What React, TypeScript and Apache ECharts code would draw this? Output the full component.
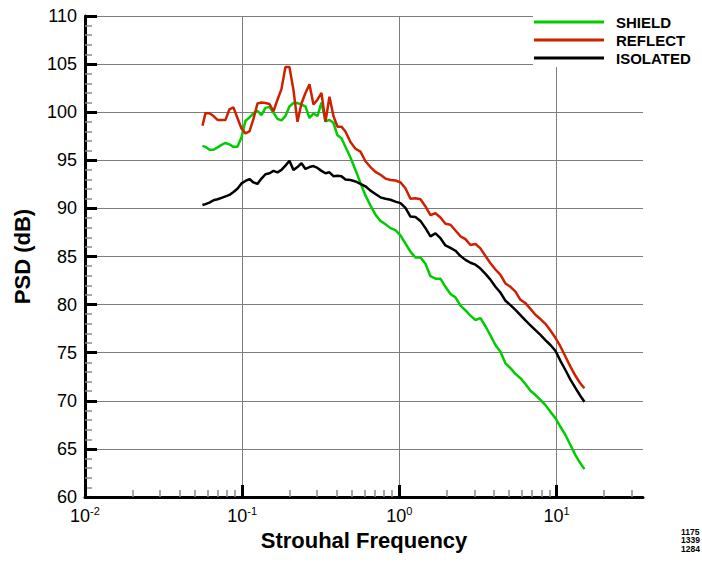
import React, { useEffect, useRef } from 'react';
import * as echarts from 'echarts';

const FONT = '"Liberation Sans", Arial, Helvetica, sans-serif';

// Strouhal frequency values
const freq = [
  0.0559, 0.0584, 0.0619, 0.0657, 0.0697, 0.0739, 0.0783, 0.083, 0.088, 0.0933,
  0.099, 0.1049, 0.1113, 0.118, 0.1251, 0.1327, 0.1407, 0.1492, 0.1582, 0.1677,
  0.1778, 0.1885, 0.1999, 0.212, 0.2248, 0.2384, 0.2527, 0.268, 0.2842, 0.3013,
  0.3195, 0.3388, 0.3592, 0.3808, 0.4038, 0.4282, 0.454,
  0.4885, 0.5256, 0.5656, 0.6085, 0.6548, 0.7046, 0.7581, 0.8157, 0.8778, 0.9445,
  1.0162, 1.0935, 1.1765, 1.266, 1.362, 1.466, 1.577, 1.697, 1.826, 1.965,
  2.114, 2.275, 2.448, 2.634, 2.834, 3.049, 3.281, 3.53, 3.798, 4.087,
  4.398, 4.731, 5.091, 5.478, 5.894, 6.342, 6.823, 7.342, 7.9, 8.5,
  9.146, 9.84, 10.59, 11.39, 12.26, 13.19, 14.19, 15.05,
];

const shield = [
  96.5, 96.4, 96.1, 96.1, 96.35, 96.6, 96.8, 96.65, 96.4, 96.4,
  97.4, 99.1, 99.45, 99.9, 100.15, 99.7, 100.45, 100.55, 99.95, 99.3,
  99.15, 99.6, 100.6, 100.95, 100.95, 100.8, 100.6, 99.4, 99.85, 99.6,
  101.0, 99.05, 99.2, 98.9, 97.6, 97.3, 96.4,
  95.3, 94.0, 92.65, 91.35, 90.3, 89.35, 88.7, 88.35, 87.95, 87.75,
  87.2, 86.35, 85.5, 84.9, 84.9, 84.25, 82.95, 82.7, 82.7, 81.85,
  81.1, 80.75, 79.9, 79.4, 78.85, 78.4, 78.6, 77.75, 76.8, 75.8,
  75.1, 73.9, 73.4, 72.8, 72.35, 71.75, 71.05, 70.6, 70.1, 69.55,
  68.85, 68.2, 67.3, 66.45, 65.4, 64.35, 63.5, 62.9,
];

const reflect = [
  98.6, 99.9, 99.9, 99.6, 99.2, 99.2, 99.2, 100.3, 100.5, 99.4,
  98.3, 97.8, 98.0, 99.3, 100.9, 101.0, 100.95, 100.85, 100.1, 101.3,
  102.4, 104.7, 104.7, 102.3, 99.0, 100.9, 102.0, 102.9, 100.8, 101.3,
  102.0, 99.0, 101.6, 99.6, 98.5, 98.5, 98.0,
  96.9, 96.2, 95.9, 94.9, 94.3, 93.8, 93.5, 93.1, 92.95, 92.9,
  92.7, 92.1, 91.0, 91.05, 90.95, 90.2, 89.3, 89.5, 89.05, 88.4,
  88.3, 87.7, 87.1, 86.8, 86.2, 86.3, 85.85, 85.05, 84.3, 83.65,
  83.1, 82.2, 81.85, 81.35, 80.5, 80.15, 79.55, 78.95, 78.5, 78.0,
  77.3, 76.55, 75.65, 74.6, 73.55, 72.6, 71.8, 71.3,
];

const isolated = [
  90.35, 90.45, 90.6, 90.85, 90.95, 91.1, 91.25, 91.4, 91.7, 92.05,
  92.6, 92.85, 93.05, 92.7, 92.55, 93.1, 93.55, 93.65, 93.9, 93.75,
  94.0, 94.45, 94.95, 94.0, 94.3, 94.7, 94.1, 94.3, 94.4, 94.2,
  93.9, 93.65, 93.75, 93.35, 93.4, 93.35, 93.0,
  92.95, 92.8, 92.55, 92.3, 91.85, 91.5, 91.15, 91.0, 90.9, 90.7,
  90.55, 90.05, 89.15, 89.1, 88.7, 87.95, 87.1, 87.4, 86.9, 86.15,
  85.9, 85.6, 85.05, 84.65, 84.35, 84.15, 83.75, 83.2, 82.6, 81.85,
  81.25, 80.4, 79.95, 79.45, 78.9, 78.35, 77.85, 77.35, 76.85, 76.3,
  75.8, 75.2, 74.15, 73.2, 72.2, 71.35, 70.5, 69.9,
];

const seriesNames = ['SHIELD', 'REFLECT', 'ISOLATED'];
const seriesColors = ['#00cc00', '#cc2200', '#000000'];

const xMajorTicks = [0.01, 0.1, 1, 10];
const xMinorTicks = [
  0.02, 0.03, 0.04, 0.05, 0.06, 0.07, 0.08, 0.09,
  0.2, 0.3, 0.4, 0.5, 0.6, 0.7, 0.8, 0.9,
  2, 3, 4, 5, 6, 7, 8, 9,
  20, 30,
];
// Only the part of these codes that is visible in the reference
const cornerCodes = ['1175', '1339', '1284'];

export default function App() {
  const ref = useRef<HTMLDivElement>(null);
  useEffect(() => {
    const chart = echarts.init(ref.current as HTMLDivElement, null, { renderer: 'svg' });
    const allData = [shield, reflect, isolated];
    const xMin = 0.01;
    const xMax = 35.5;
    chart.setOption({
      animation: false,
      backgroundColor: '#ffffff',
      textStyle: { fontFamily: FONT },
      grid: { left: 85, right: 59, top: 16, bottom: 65, containLabel: false, outerBoundsMode: 'none' },
      legend: {
        show: true,
        data: seriesNames,
        orient: 'vertical',
        left: 533,
        top: 0,
        padding: [13, 30, 0, 1],
        itemGap: 0,
        itemWidth: 70,
        itemHeight: 3,
        icon: 'rect',
        backgroundColor: '#ffffff',
        selectedMode: false,
        textStyle: {
          fontFamily: FONT,
          fontSize: 15,
          fontWeight: 'bold',
          color: '#000',
          lineHeight: 18,
          padding: [0, 0, 0, 7],
        },
      },
      xAxis: [
        {
          type: 'log',
          logBase: 10,
          min: xMin,
          max: xMax,
          position: 'bottom',
          name: 'Strouhal Frequency',
          nameLocation: 'middle',
          nameGap: 23,
          nameTextStyle: { fontFamily: FONT, fontSize: 22, fontWeight: 'bold', color: '#000' },
          axisLine: { show: true, onZero: false, lineStyle: { color: '#000', width: 3 } },
          axisTick: {
            show: true,
            inside: true,
            length: 12,
            customValues: xMajorTicks,
            lineStyle: { color: '#000', width: 3 },
          },
          minorTick: { show: false },
          axisLabel: {
            show: true,
            customValues: xMajorTicks,
            margin: 8,
            color: '#000',
            formatter: (v: number) => '{b|10}{s|' + Math.round(Math.log10(v)) + '}',
            rich: {
              b: { fontFamily: FONT, fontSize: 18, lineHeight: 22, color: '#000', verticalAlign: 'middle' },
              s: { fontFamily: FONT, fontSize: 11, lineHeight: 11, color: '#000', verticalAlign: 'top' },
            },
          },
          splitLine: { show: true, lineStyle: { color: '#7d7d7d', width: 1 } },
        },
        {
          type: 'log',
          logBase: 10,
          min: xMin,
          max: xMax,
          position: 'bottom',
          axisLine: { show: false, onZero: false },
          axisTick: {
            show: true,
            inside: true,
            length: 7,
            customValues: xMinorTicks,
            lineStyle: { color: '#8a8a8a', width: 1.5 },
          },
          axisLabel: { show: false },
          splitLine: { show: false },
        },
      ],
      yAxis: {
        type: 'value',
        min: 60,
        max: 110,
        interval: 5,
        name: 'PSD (dB)',
        nameLocation: 'middle',
        nameGap: 52,
        nameRotate: 90,
        nameTextStyle: { fontFamily: FONT, fontSize: 22, fontWeight: 'bold', color: '#000' },
        axisLine: { show: true, onZero: false, lineStyle: { color: '#000', width: 3 } },
        axisTick: { show: true, inside: true, length: 12, lineStyle: { color: '#000', width: 3 } },
        minorTick: { show: true, splitNumber: 5, length: 7, lineStyle: { color: '#8a8a8a', width: 1.5 } },
        axisLabel: { fontFamily: FONT, fontSize: 18, color: '#000', margin: 8 },
        splitLine: { show: true, lineStyle: { color: '#7d7d7d', width: 1 } },
      },
      series: seriesNames.map((name, k) => ({
        name,
        type: 'line',
        xAxisIndex: 0,
        yAxisIndex: 0,
        data: freq.map((f, i) => [f, allData[k][i]]),
        showSymbol: false,
        symbol: 'none',
        color: seriesColors[k],
        itemStyle: { color: seriesColors[k] },
        lineStyle: { color: seriesColors[k], width: 2.5 },
        z: 3 + k,
      })),
      graphic: [
        {
          type: 'text',
          left: 681,
          top: 527,
          z: 10,
          style: {
            text: cornerCodes.join('\n'),
            font: 'bold 8.5px ' + FONT,
            lineHeight: 8.8,
            fill: '#000',
          },
        },
      ],
    });
    return () => chart.dispose();
  }, []);
  return (
    <div
      ref={ref}
      style={{ position: 'fixed', left: 0, top: 0, width: 702, height: 562, background: '#fff' }}
    />
  );
}
